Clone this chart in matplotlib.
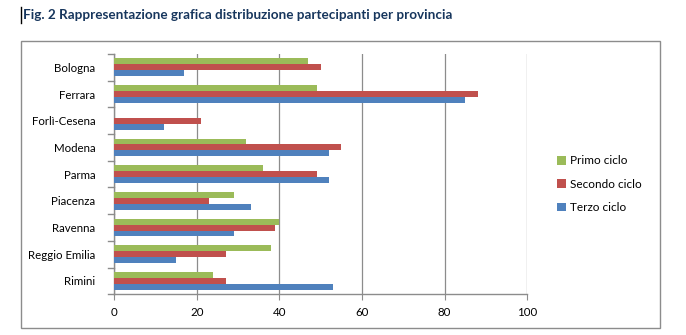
import matplotlib.pyplot as plt
import numpy as np
from matplotlib.patches import Rectangle
from matplotlib.lines import Line2D

plt.rcParams['font.family'] = ['Lato', 'DejaVu Sans']

# participants per province, one list per cycle
province = ['Bologna', 'Ferrara', 'Forlì-Cesena', 'Modena', 'Parma',
            'Piacenza', 'Ravenna', 'Reggio Emilia', 'Rimini']
primo = [47, 49, 0, 32, 36, 29, 40, 38, 24]
secondo = [50, 88, 21, 55, 49, 23, 39, 27, 27]
terzo = [17, 85, 12, 52, 52, 33, 29, 15, 53]
series_names = ['Primo ciclo', 'Secondo ciclo', 'Terzo ciclo']
xticks = [0, 20, 40, 60, 80, 100]

colors = ['#9BBB59', '#C0504D', '#4F81BD']
grid_col = '#8C8C8C'

fig = plt.figure(figsize=(6.86, 3.35), dpi=100)
ax = fig.add_axes([0.1666, 0.1215, 0.602, 0.7173])

y = np.arange(len(province))
h = 0.222
for i, (vals, c, name) in enumerate(zip([primo, secondo, terzo], colors, series_names)):
    ax.barh(y + (i - 1) * h, vals, height=h, color=c, label=name, zorder=3)

ax.set_ylim(len(province) - 0.5, -0.5)
ax.set_xlim(0, 100)
ax.set_xticks(xticks)
ax.set_yticks(y)
ax.set_yticklabels(province)
ax.yaxis.set_ticks_position('none')
# category separator ticks on the left of the vertical axis
for b in np.arange(-0.5, len(province) + 0.5, 1):
    ax.add_line(Line2D([-1.6, 0], [b, b], color=grid_col, lw=1, clip_on=False))
ax.tick_params(axis='y', pad=10, labelsize=8.3, colors='black')
ax.tick_params(axis='x', length=4, color=grid_col, labelsize=8.3, pad=5)
ax.grid(axis='x', color=grid_col, lw=0.9, zorder=0)
for s in ['top', 'right']:
    ax.spines[s].set_visible(False)
for s in ['left', 'bottom']:
    ax.spines[s].set_color(grid_col)
    ax.spines[s].set_linewidth(1)

fig.legend(loc='center left', bbox_to_anchor=(0.797, 0.45), frameon=False,
           handlelength=0.75, handleheight=0.75, handletextpad=0.3,
           labelspacing=1.05, fontsize=8.5)

# outer chart frame
fig.add_artist(Rectangle((0.0306, 0.0209), 0.931, 0.857, transform=fig.transFigure,
                         fill=False, edgecolor=grid_col, lw=1))

fig.text(0.034, 0.955, 'Fig. 2 Rappresentazione grafica distribuzione partecipanti per provincia',
         fontsize=9.7, fontweight='bold', color='#17365D', va='center', ha='left')
fig.add_artist(Line2D([0.0306, 0.0306], [0.93, 0.98], transform=fig.transFigure,
                      color='black', lw=1))

fig.savefig('out.png', dpi=100)
